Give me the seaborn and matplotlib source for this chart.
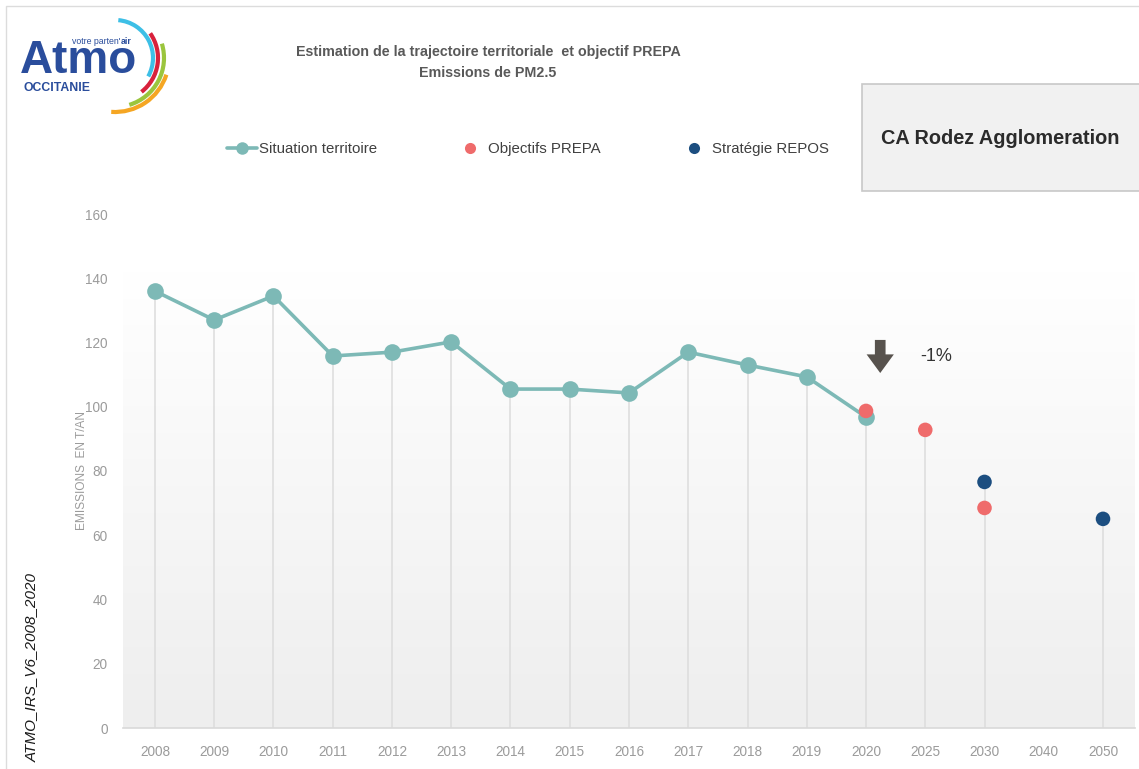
import numpy as np
import pandas as pd
import seaborn as sns
import matplotlib.pyplot as plt
from matplotlib.patches import Arc, Rectangle, FancyArrow
from matplotlib.lines import Line2D

# data
years = ["2008", "2009", "2010", "2011", "2012", "2013", "2014", "2015", "2016",
         "2017", "2018", "2019", "2020", "2025", "2030", "2040", "2050"]
territoire_years = ["2008", "2009", "2010", "2011", "2012", "2013", "2014",
                    "2015", "2016", "2017", "2018", "2019", "2020"]
territoire_values = [136.0, 127.0, 134.5, 115.8, 117.0, 120.2, 105.5, 105.5,
                     104.3, 117.0, 113.0, 109.3, 96.8]
prepa_years = ["2020", "2025", "2030"]
prepa_values = [98.7, 92.8, 68.5]
repos_years = ["2030", "2050"]
repos_values = [76.6, 65.1]
y_ticks = [0, 20, 40, 60, 80, 100, 120, 140, 160]

TEAL = "#7db9b6"
RED = "#ef6b6b"
NAVY = "#1c4e80"

sns.set_theme(style="white")
plt.rcParams["font.family"] = ["Liberation Sans", "DejaVu Sans"]

pos = {y: i for i, y in enumerate(years)}
df_terr = pd.DataFrame({"x": [pos[y] for y in territoire_years], "val": territoire_values})
df_prepa = pd.DataFrame({"x": [pos[y] for y in prepa_years], "val": prepa_values})
df_repos = pd.DataFrame({"x": [pos[y] for y in repos_years], "val": repos_values})

W, H = 1139, 769
fig = plt.figure(figsize=(W / 100, H / 100), dpi=100)
fig.patch.set_facecolor("white")

# outer frame
fig.add_artist(Rectangle((6 / W, -0.01), 1.02, 1 - 6 / H + 0.01, transform=fig.transFigure,
                         fill=False, edgecolor="#dcdcdc", lw=1))

ax = fig.add_axes([123 / W, 1 - 728 / H, (1135 - 123) / W, (728 - 214) / H])
x0, x1 = -0.54, len(years) - 1 + 0.54
ax.set_xlim(x0, x1)
ax.set_ylim(0, 160)

# background gradient inside the plot area
grad = np.linspace(0, 1, 256).reshape(-1, 1)
ax.imshow(grad, extent=(x0, x1, 0, 142), aspect="auto",
          cmap=sns.blend_palette(["#eeeeee", "#ffffff"], as_cmap=True),
          origin="lower", zorder=0)

# drop lines from every point down to zero
all_pts = pd.concat([df_terr, df_prepa, df_repos]).groupby("x")["val"].max()
ax.vlines(all_pts.index, 0, all_pts.values, color="#dcdcdc", lw=1.1, zorder=1)

sns.lineplot(data=df_terr, x="x", y="val", ax=ax, color=TEAL, lw=2.6,
             marker="o", markersize=12, markeredgewidth=0, zorder=3)
sns.scatterplot(data=df_prepa, x="x", y="val", ax=ax, color=RED, s=110,
                edgecolor="none", zorder=4)
sns.scatterplot(data=df_repos, x="x", y="val", ax=ax, color=NAVY, s=110,
                edgecolor="none", zorder=4)

ax.set_xticks(range(len(years)))
ax.set_xticklabels(years)
ax.set_yticks(y_ticks)
for lab in ax.get_xticklabels() + ax.get_yticklabels():
    lab.set_fontsize(9.8)
    lab.set_color("#9b9b9b")
ax.tick_params(axis="x", length=0, pad=12)
ax.tick_params(axis="y", length=0, pad=11)
for s in ["top", "right", "left"]:
    ax.spines[s].set_visible(False)
ax.spines["bottom"].set_color("#d9d9d9")
ax.spines["bottom"].set_linewidth(1.2)
ax.set_xlabel("")
ax.set_ylabel("")
ax.set_facecolor("white")
fig.text(82 / W, 1 - 470 / H, "EMISSIONS  EN T/AN", rotation=90, ha="center", va="center",
         fontsize=8.6, color="#9b9b9b")

# arrow and annotation
ax.add_patch(FancyArrow(12.24, 120.8, 0, -10.3, width=0.18, head_width=0.46,
                        head_length=5.8, length_includes_head=True,
                        color="#57524d", lw=0, zorder=5))
ax.text(12.91, 115.5, "-1%", fontsize=13, color="#333333", va="center")

# titles
fig.text(488 / W, 1 - 52 / H, "Estimation de la trajectoire territoriale  et objectif PREPA",
         ha="center", va="center", fontsize=10.3, fontweight="bold", color="#595959")
fig.text(488 / W, 1 - 73 / H, "Emissions de PM2.5", ha="center", va="center",
         fontsize=10.3, fontweight="bold", color="#595959")

# territory box
fig.add_artist(Rectangle((862 / W, 1 - 191 / H), (1145 - 862) / W, (191 - 84) / H,
                         transform=fig.transFigure, facecolor="#f1f1f1",
                         edgecolor="#c8c8c8", lw=1.2))
fig.text(1000 / W, 1 - 139 / H, "CA Rodez Agglomeration", ha="center", va="center",
         fontsize=14.3, fontweight="bold", color="#2b2b2b")

# legend, one entry per block so each sits where the reference has it
legend_items = [
    (Line2D([], [], color=TEAL, lw=2.6, marker="o", markersize=9, markeredgewidth=0),
     "Situation territoire", 227, 2.0, 0.15),
    (Line2D([], [], color=RED, lw=0, marker="o", markersize=8, markeredgewidth=0),
     "Objectifs PREPA", 463, 0.9, 0.75),
    (Line2D([], [], color=NAVY, lw=0, marker="o", markersize=8, markeredgewidth=0),
     "Stratégie REPOS", 687, 0.9, 0.75),
]
for handle, label, left, hlen, hpad in legend_items:
    leg = fig.legend([handle], [label], loc="center left",
                     bbox_to_anchor=(left / W, 1 - 149 / H), frameon=False,
                     prop={"size": 10.8}, handlelength=hlen, handletextpad=hpad,
                     borderpad=0, borderaxespad=0)
    for t in leg.get_texts():
        t.set_color("#404040")

# side reference text
fig.text(32 / W, 1 - 667 / H, "ATMO_IRS_V6_2008_2020", rotation=90, ha="center", va="center",
         fontsize=11, fontstyle="italic", color="#1a1a1a")

# logo
lax = fig.add_axes([15 / W, 1 - 115 / H, 165 / W, 100 / H])
lax.set_xlim(0, 165)
lax.set_ylim(0, 100)
lax.axis("off")
LOGO_BLUE = "#2a4d9c"
lax.text(5, 42, "Atmo", fontsize=33, fontweight="bold", color=LOGO_BLUE, va="baseline")
vp = lax.text(57, 74, "votre parten'", fontsize=6.3, color=LOGO_BLUE, va="center")
lax.annotate("air", xy=(1, 0.5), xycoords=vp, va="center", ha="left",
             fontsize=6.3, color=LOGO_BLUE, fontweight="bold")
lax.text(8, 27, "OCCITANIE", fontsize=8.8, fontweight="bold", color=LOGO_BLUE, va="center")
arcs = [(38, -29, 85, "#3dbfe6"), (43, -52, 35, "#d8213c"),
        (49, -73, 17, "#9bc53d"), (54, -94, -18, "#f5a623")]
for r, t1, t2, c in arcs:
    lax.add_patch(Arc((100, 57), 2 * r, 2 * r, theta1=t1, theta2=t2, color=c, lw=3))

fig.savefig("out.png", dpi=100)
